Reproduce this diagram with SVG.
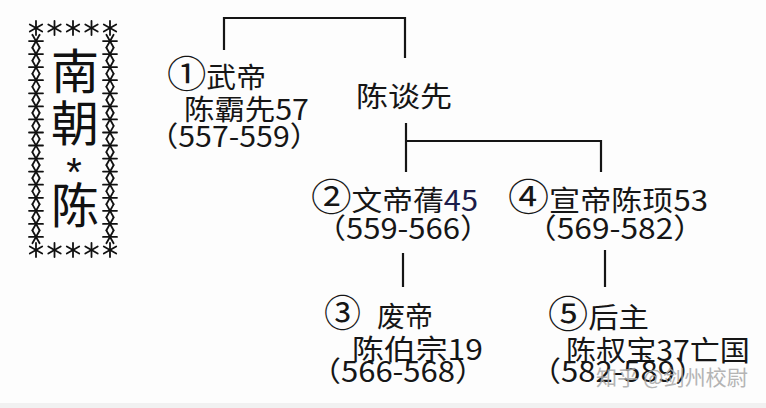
<svg xmlns="http://www.w3.org/2000/svg" xmlns:xlink="http://www.w3.org/1999/xlink" width="766" height="408" viewBox="0 0 766 408">
<style>
.t{font-family:"Noto Sans CJK SC","Noto Sans CJK JP",sans-serif;fill:#161616;font-size:28px}
.c{font-size:37px}
.big{font-family:"Noto Sans CJK SC",sans-serif;fill:#111;font-size:48px}
.ln{stroke:#151515;stroke-width:2.2;fill:none}
.st{stroke:#111;stroke-width:1.8;stroke-linecap:round}
.wm{font-family:"Noto Sans CJK SC",sans-serif;fill:#a8a8a8;font-size:21px;opacity:0.85}
</style>
<defs>
<g id="sc" class="st"><line x1="-7" y1="0" x2="7" y2="0"/><line x1="-3.6" y1="-6.4" x2="3.6" y2="6.4"/><line x1="-3.6" y1="6.4" x2="3.6" y2="-6.4"/></g>
<g id="sr" class="st"><line x1="0" y1="-7" x2="0" y2="7"/><line x1="-6.2" y1="-3.5" x2="6.2" y2="3.5"/><line x1="-6.2" y1="3.5" x2="6.2" y2="-3.5"/></g>
</defs>
<rect width="766" height="408" fill="#fdfdfd"/>
<rect y="403" width="766" height="5" fill="#f1f1f1"/>
<g id="title">
<g id="border">
<use xlink:href="#sr" x="36" y="28"/><use xlink:href="#sr" x="54.5" y="28"/><use xlink:href="#sr" x="73" y="28"/><use xlink:href="#sr" x="91.5" y="28"/><use xlink:href="#sr" x="110" y="28"/>
<use xlink:href="#sr" x="36" y="250"/><use xlink:href="#sr" x="54.5" y="250"/><use xlink:href="#sr" x="73" y="250"/><use xlink:href="#sr" x="91.5" y="250"/><use xlink:href="#sr" x="110" y="250"/>
<use xlink:href="#sc" x="36" y="41.1"/><use xlink:href="#sc" x="36" y="54.1"/><use xlink:href="#sc" x="36" y="67.2"/><use xlink:href="#sc" x="36" y="80.2"/><use xlink:href="#sc" x="36" y="93.3"/><use xlink:href="#sc" x="36" y="106.4"/><use xlink:href="#sc" x="36" y="119.4"/><use xlink:href="#sc" x="36" y="132.5"/><use xlink:href="#sc" x="36" y="145.5"/><use xlink:href="#sc" x="36" y="158.6"/><use xlink:href="#sc" x="36" y="171.6"/><use xlink:href="#sc" x="36" y="184.7"/><use xlink:href="#sc" x="36" y="197.8"/><use xlink:href="#sc" x="36" y="210.8"/><use xlink:href="#sc" x="36" y="223.9"/><use xlink:href="#sc" x="36" y="236.9"/>
<use xlink:href="#sc" x="110" y="41.1"/><use xlink:href="#sc" x="110" y="54.1"/><use xlink:href="#sc" x="110" y="67.2"/><use xlink:href="#sc" x="110" y="80.2"/><use xlink:href="#sc" x="110" y="93.3"/><use xlink:href="#sc" x="110" y="106.4"/><use xlink:href="#sc" x="110" y="119.4"/><use xlink:href="#sc" x="110" y="132.5"/><use xlink:href="#sc" x="110" y="145.5"/><use xlink:href="#sc" x="110" y="158.6"/><use xlink:href="#sc" x="110" y="171.6"/><use xlink:href="#sc" x="110" y="184.7"/><use xlink:href="#sc" x="110" y="197.8"/><use xlink:href="#sc" x="110" y="210.8"/><use xlink:href="#sc" x="110" y="223.9"/><use xlink:href="#sc" x="110" y="236.9"/>
</g>
<text class="big" x="75" y="89" text-anchor="middle">南</text>
<text class="big" x="75" y="141" text-anchor="middle">朝</text>
<text x="74" y="186" text-anchor="middle" style="font-family:'Liberation Sans',sans-serif;font-size:40px;fill:#111">*</text>
<text class="big" x="75" y="223" text-anchor="middle">陈</text>
</g>
<g id="connectors">
<polyline class="ln" points="224,50 224,18 405,18 405,58"/>
<line class="ln" x1="406" y1="123" x2="406" y2="172"/>
<polyline class="ln" points="406,141 601,141 601,172"/>
<line class="ln" x1="403" y1="253" x2="403" y2="287"/>
<line class="ln" x1="605" y1="250" x2="605" y2="287"/>
</g>
<g id="node-wudi">
<text class="t" x="167" y="88" textLength="99" lengthAdjust="spacingAndGlyphs"><tspan class="c">①</tspan>武帝</text>
<text class="t" x="184" y="120" textLength="125" lengthAdjust="spacingAndGlyphs">陈霸先57</text>
<text class="t" x="148" y="147" textLength="172" lengthAdjust="spacingAndGlyphs">（557-559）</text>
</g>
<g id="node-chentanxian">
<text class="t" x="356" y="107" textLength="96" lengthAdjust="spacingAndGlyphs">陈谈先</text>
</g>
<g id="node-wendi">
<text class="t" x="311" y="211" textLength="167" lengthAdjust="spacingAndGlyphs"><tspan class="c">②</tspan>文帝蒨<tspan style="fill:#1c1c4a">45</tspan></text>
<text class="t" x="315" y="239" textLength="176" lengthAdjust="spacingAndGlyphs">（559-566）</text>
</g>
<g id="node-xuandi">
<text class="t" x="508" y="211" textLength="200" lengthAdjust="spacingAndGlyphs"><tspan class="c">④</tspan>宣帝陈顼53</text>
<text class="t" x="525" y="239" textLength="180" lengthAdjust="spacingAndGlyphs">（569-582）</text>
</g>
<g id="node-feidi">
<text class="t" x="324" y="327"><tspan class="c">③</tspan> <tspan x="377">废帝</tspan></text>
<text class="t" x="352" y="360" textLength="131" lengthAdjust="spacingAndGlyphs">陈伯宗19</text>
<text class="t" x="310" y="382" textLength="176" lengthAdjust="spacingAndGlyphs">（566-568）</text>
</g>
<g id="node-houzhu">
<text class="t" x="548" y="328" textLength="101" lengthAdjust="spacingAndGlyphs"><tspan class="c">⑤</tspan>后主</text>
<text class="t" x="566" y="361" textLength="184" lengthAdjust="spacingAndGlyphs">陈叔宝37亡国</text>
<text class="t" x="530" y="382" textLength="176" lengthAdjust="spacingAndGlyphs">（582-589）</text>
</g>
<text class="wm" x="596" y="385" textLength="152" lengthAdjust="spacingAndGlyphs">知乎 @剑州校尉</text>
</svg>
